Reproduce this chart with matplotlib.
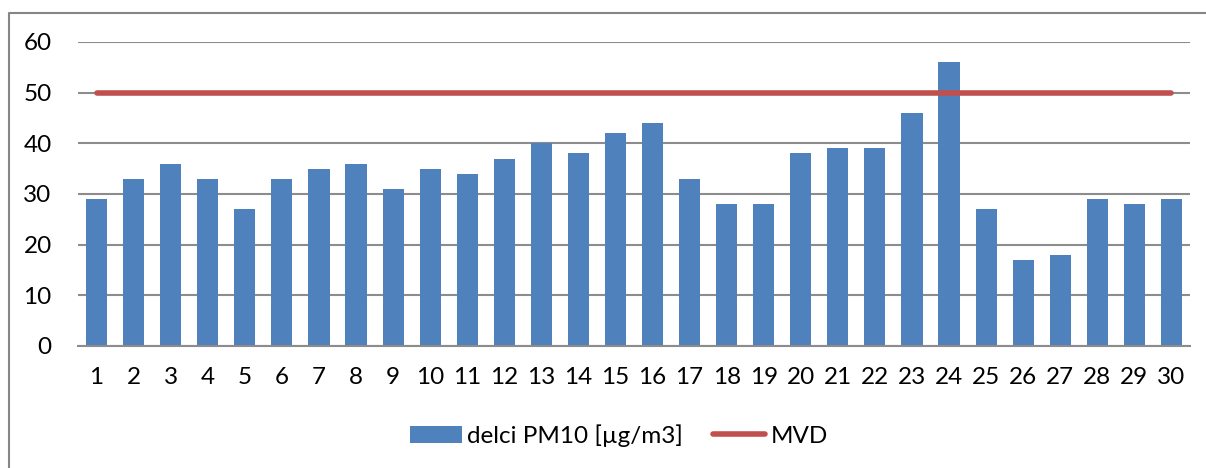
import numpy as np
import matplotlib
matplotlib.use("Agg")
import matplotlib.pyplot as plt
from matplotlib.lines import Line2D

# daily PM10 concentrations and limit value
days = list(range(1, 31))
pm10 = [29, 33, 36, 33, 27, 33, 35, 36, 31, 35, 34, 37, 40, 38, 42,
        44, 33, 28, 28, 38, 39, 39, 46, 56, 27, 17, 18, 29, 28, 29]
mvd = [50] * 30
yticks = [0, 10, 20, 30, 40, 50, 60]

plt.rcParams['font.family'] = ['Lato', 'DejaVu Sans']

fig = plt.figure(figsize=(12.06, 4.68), dpi=100)
ax = fig.add_axes([0.0647, 0.2607, 0.9220, 0.6496])

x = np.arange(len(days))
bars = ax.bar(x, pm10, width=0.57, color='#4f81bd', zorder=2,
              label='delci PM10 [µg/m3]')
line, = ax.plot(x, mvd, color='#c0504d', lw=4, solid_capstyle='round',
                zorder=3, label='MVD')

ax.set_xlim(-0.5, len(days) - 0.5)
ax.set_ylim(0, 60)
ax.set_yticks(yticks)
ax.set_xticks(x)
ax.set_xticklabels([str(d) for d in days])
ax.tick_params(length=0, labelsize=17.5, colors='black')
ax.tick_params(axis='y', pad=19)
ax.tick_params(axis='x', pad=15)
ax.yaxis.grid(True, color='#8c8c8c', lw=1.5, zorder=0)
ax.set_axisbelow(True)
for side in ['top', 'right', 'left']:
    ax.spines[side].set_visible(False)
ax.spines['bottom'].set_color('#8c8c8c')
ax.spines['bottom'].set_linewidth(1.5)

fig.legend(handles=[bars, line], loc='center', bbox_to_anchor=(0.513, 0.07),
           ncol=2, frameon=False, fontsize=17.5, handlelength=2.15,
           handletextpad=0.2, columnspacing=1.25)

# chart area frame, only left and top edges fall inside the canvas
fig.add_artist(Line2D([0.0075, 0.0075, 1.01], [-0.01, 1 - 13 / 468, 1 - 13 / 468],
                      transform=fig.transFigure, color='#868686', lw=1.5))

fig.savefig('out.png', dpi=100)
